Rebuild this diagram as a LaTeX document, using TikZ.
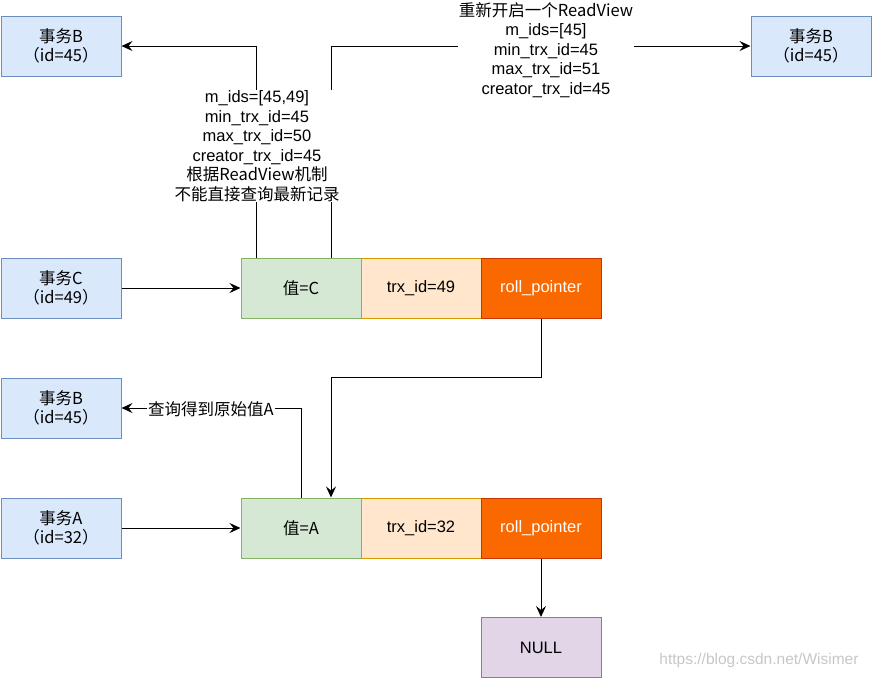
\documentclass[tikz,border=0pt]{standalone}
\usepackage{fontspec}
\setmainfont{Liberation Sans}
\newfontfamily\cjk{Noto Sans CJK SC}
\usetikzlibrary{arrows.meta}
\definecolor{bfill}{HTML}{DAE8FC}\definecolor{bline}{HTML}{6C8EBF}
\definecolor{gfill}{HTML}{D5E8D4}\definecolor{gline}{HTML}{82B366}
\definecolor{ofill}{HTML}{FFE6CC}\definecolor{oline}{HTML}{D79B00}
\definecolor{rfill}{HTML}{FA6800}\definecolor{rline}{HTML}{C73500}
\definecolor{pfill}{HTML}{E1D5E7}\definecolor{pline}{HTML}{9673A6}
\begin{document}
\begin{tikzpicture}[x=1pt,y=-1pt,
  box/.style={draw, minimum width=120pt, minimum height=60pt, inner sep=0pt, align=center, font=\fontsize{16.5}{19.5}\selectfont, line width=1pt},
  txbox/.style={box, fill=bfill, draw=bline},
  valbox/.style={box, fill=gfill, draw=gline},
  trxbox/.style={box, fill=ofill, draw=oline},
  ptrbox/.style={box, fill=rfill, draw=rline, text=white},
  nullbox/.style={box, fill=pfill, draw=pline},
  conn/.style={draw=black, line width=1pt},
  arr/.style={conn, -{Stealth[length=11pt,width=10pt,inset=4pt]}},
  lbl/.style={fill=white, align=center, inner sep=1pt, font=\fontsize{16.5}{19.5}\selectfont}
]
\useasboundingbox (0,0) rectangle (872,678);
% transaction boxes
\node[txbox] (b1) at (61,46) {\cjk{事务}B\\\cjk{（}id=45\cjk{）}};
\node[txbox] (b2) at (811,46) {\cjk{事务}B\\\cjk{（}id=45\cjk{）}};
\node[txbox] (c) at (61,288) {\cjk{事务}C\\\cjk{（}id=49\cjk{）}};
\node[txbox] (b3) at (61,408) {\cjk{事务}B\\\cjk{（}id=45\cjk{）}};
\node[txbox] (a) at (61,528) {\cjk{事务}A\\\cjk{（}id=32\cjk{）}};
% record C
\node[valbox] (vc) at (301,288) {\cjk{值}=C};
\node[trxbox] (tc) at (421,288) {trx\_id=49};
\node[ptrbox] (pc) at (541,288) {roll\_pointer};
% record A
\node[valbox] (va) at (301,528) {\cjk{值}=A};
\node[trxbox] (ta) at (421,528) {trx\_id=32};
\node[ptrbox] (pa) at (541,528) {roll\_pointer};
\node[nullbox] (nl) at (541,647.5) {NULL};
% connectors
\draw[arr] (c.east) -- (vc.west);
\draw[arr] (a.east) -- (va.west);
\draw[arr] (pc.south) -- ++(0,59) -| ([xshift=30pt]va.north);
\draw[arr] (pa.south) -- (nl.north);
\draw[arr] ([xshift=-45pt]vc.north) |- (b1.east);
\draw[arr] ([xshift=30pt]vc.north) |- (b2.west);
\draw[arr] (va.north) |- (b3.east);
% labels
\node[lbl] (l1) at (257,146) {m\_ids=[45,49]\\min\_trx\_id=45\\max\_trx\_id=50\\creator\_trx\_id=45\\\cjk{根据}ReadView\cjk{机制}\\\cjk{不能直接查询最新记录}};
\node[lbl] (l2) at (546,50) {\cjk{重新开启一个}ReadView\\m\_ids=[45]\\min\_trx\_id=45\\max\_trx\_id=51\\creator\_trx\_id=45};
\node[lbl] (l3) at (211,409) {\cjk{查询得到原始值}A};
\node[text=black!22, font=\fontsize{15.5}{17}\selectfont, anchor=east] (wm) at (862,660) {https://blog.csdn.net/Wisimer};
\end{tikzpicture}
\end{document}
